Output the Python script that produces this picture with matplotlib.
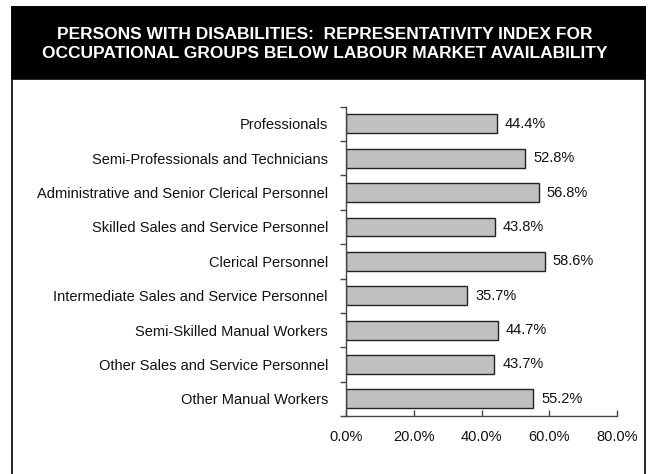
import matplotlib.pyplot as plt
from matplotlib.patches import Rectangle
from matplotlib.ticker import FixedLocator, FuncFormatter

plt.rcParams['font.family'] = ['Liberation Sans', 'DejaVu Sans']

groups = [
    "Professionals",
    "Semi-Professionals and Technicians",
    "Administrative and Senior Clerical Personnel",
    "Skilled Sales and Service Personnel",
    "Clerical Personnel",
    "Intermediate Sales and Service Personnel",
    "Semi-Skilled Manual Workers",
    "Other Sales and Service Personnel",
    "Other Manual Workers",
]
index_values = [44.4, 52.8, 56.8, 43.8, 58.6, 35.7, 44.7, 43.7, 55.2]
x_ticks = [0, 20, 40, 60, 80]

W, H = 649, 474
fig = plt.figure(figsize=(W / 100, H / 100), dpi=100)

# outer frame and black title band (pixel coords -> figure fraction)
def px(x0, y0, x1, y1):
    return (x0 / W, 1 - y1 / H), (x1 - x0) / W, (y1 - y0) / H

xy, w, h = px(12, 7, 645, 480)
fig.patches.append(Rectangle(xy, w, h, transform=fig.transFigure, zorder=-2,
                             facecolor='white', edgecolor='black', lw=1.2))
xy, w, h = px(12, 7, 645, 79)
fig.patches.append(Rectangle(xy, w, h, transform=fig.transFigure, zorder=-1,
                             facecolor='black', edgecolor='black', lw=1.2))
fig.text(0.5, 1 - 44 / H,
         "PERSONS WITH DISABILITIES:  REPRESENTATIVITY INDEX FOR\n"
         "OCCUPATIONAL GROUPS BELOW LABOUR MARKET AVAILABILITY",
         color='white', ha='center', va='center', fontsize=12.5,
         fontweight='bold', linespacing=1.3)

ax = fig.add_axes([346 / W, 1 - 416 / H, (617.3 - 346) / W, (416 - 106.7) / H])
ax.set_facecolor('none')

ypos = list(range(len(groups)))
bars = ax.barh(ypos, index_values, height=0.55, color='#c0c0c0',
               edgecolor='#222222', linewidth=1)
for b, v in zip(bars, index_values):
    ax.text(b.get_width() + 2.4, b.get_y() + b.get_height() / 2, f"{v:.1f}%",
            va='center', ha='left', fontsize=10.5, color='#111111')

ax.set_xlim(0, 80)
ax.set_ylim(len(groups) - 0.5, -0.5)
ax.set_xticks(x_ticks)
ax.xaxis.set_major_formatter(FuncFormatter(lambda v, p: f"{v:.1f}%"))
ax.tick_params(axis='x', direction='in', length=4, width=1, color='#444444',
               pad=10, labelsize=10.5, labelcolor='#111111')

ax.set_yticks(ypos)
ax.set_yticklabels(groups)
ax.yaxis.set_minor_locator(FixedLocator([i - 0.5 for i in range(len(groups) + 1)]))
ax.tick_params(axis='y', which='major', length=0, pad=13, labelsize=10.5,
               labelcolor='#111111')
ax.tick_params(axis='y', which='minor', direction='out', length=4, width=1,
               color='#444444')

for s in ['top', 'right']:
    ax.spines[s].set_visible(False)
for s in ['left', 'bottom']:
    ax.spines[s].set_color('#444444')
    ax.spines[s].set_linewidth(1)

fig.savefig('out.png', dpi=100)
